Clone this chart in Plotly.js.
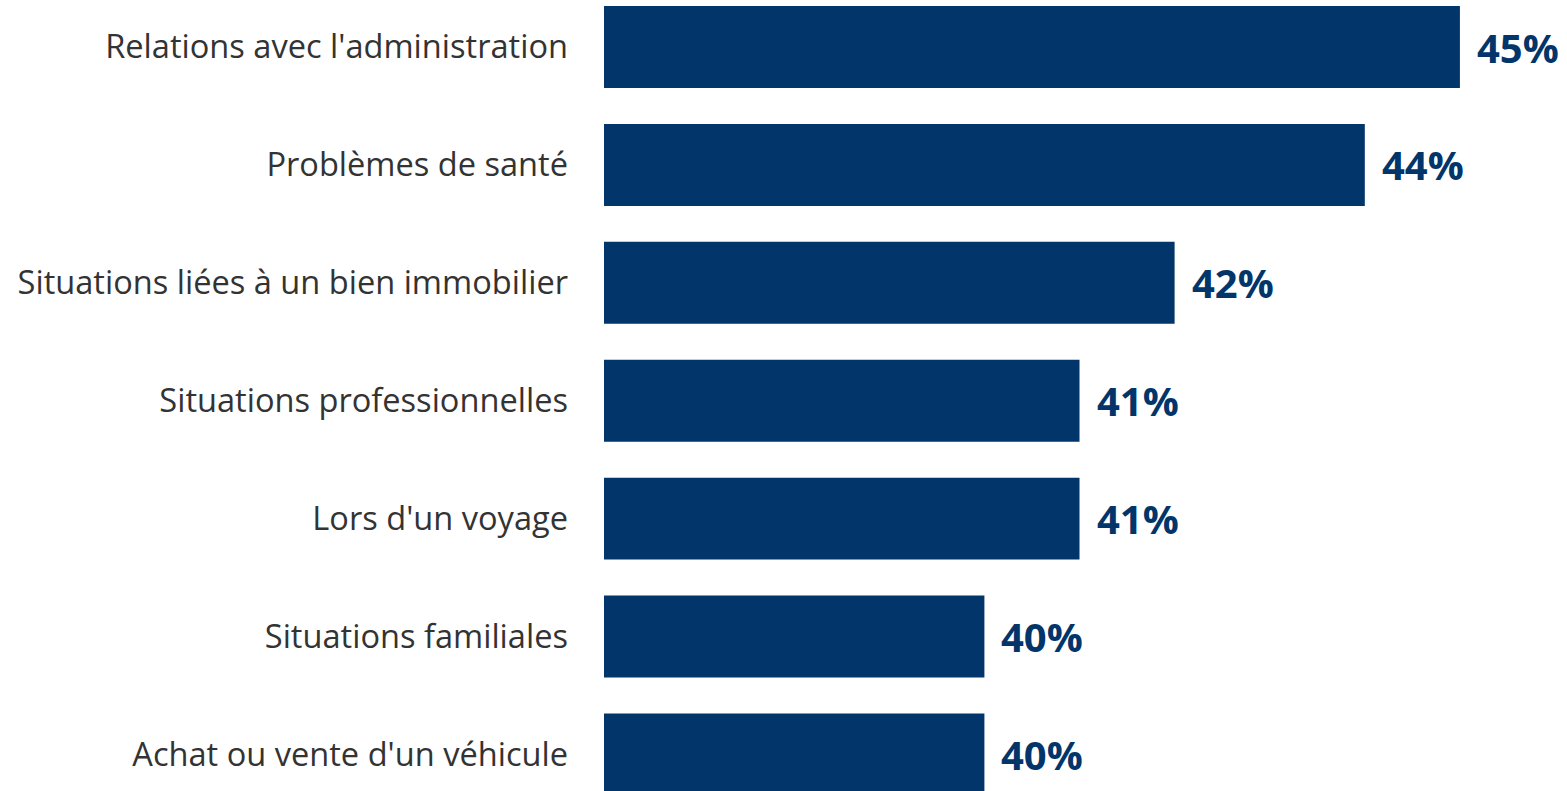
<!DOCTYPE html>
<html>
<head>
<meta charset="utf-8">
<script src="https://cdn.plot.ly/plotly-3.0.1.min.js"></script>
<style>html,body{margin:0;padding:0;background:#fff;}#chart{width:1567px;height:791px;} text{font-variant-ligatures:none;}</style>
</head>
<body>
<div id="chart"></div>
<script>
const categories = [
  "Relations avec l'administration",
  "Problèmes de santé",
  "Situations liées à un bien immobilier",
  "Situations professionnelles",
  "Lors d'un voyage",
  "Situations familiales",
  "Achat ou vente d'un véhicule"
];
const values = [45, 44, 42, 41, 41, 40, 40];
const valueLabels = values.map(v => v + "%");

const barColor = "#02356A";
const labelFont = "'Open Sans', sans-serif";

const trace = {
  type: "bar",
  orientation: "h",
  x: values,
  y: categories,
  marker: { color: barColor },
  hoverinfo: "none"
};

const annotations = values.map((v, i) => ({
  x: v,
  y: categories[i],
  xref: "x",
  yref: "y",
  text: valueLabels[i],
  showarrow: false,
  xanchor: "left",
  yanchor: "middle",
  xshift: 15,
  font: { family: labelFont, size: 40, color: barColor, weight: "bold" }
}));

const layout = {
  width: 1567,
  height: 791,
  margin: { l: 604, r: 0, t: 0, b: 0, pad: 0 },
  paper_bgcolor: "#ffffff",
  plot_bgcolor: "#ffffff",
  showlegend: false,
  bargap: 0.305,
  xaxis: {
    range: [36, 46.126],
    visible: false,
    fixedrange: true
  },
  yaxis: {
    type: "category",
    categoryorder: "array",
    categoryarray: categories,
    range: [6.310, -0.399],
    showgrid: false,
    zeroline: false,
    showline: false,
    ticks: "",
    ticklabelstandoff: 35,
    tickfont: { family: labelFont, size: 32.6, color: "#333333" },
    fixedrange: true
  },
  annotations: annotations
};

Plotly.newPlot("chart", [trace], layout, { displayModeBar: false, staticPlot: true });
</script>
</body>
</html>
